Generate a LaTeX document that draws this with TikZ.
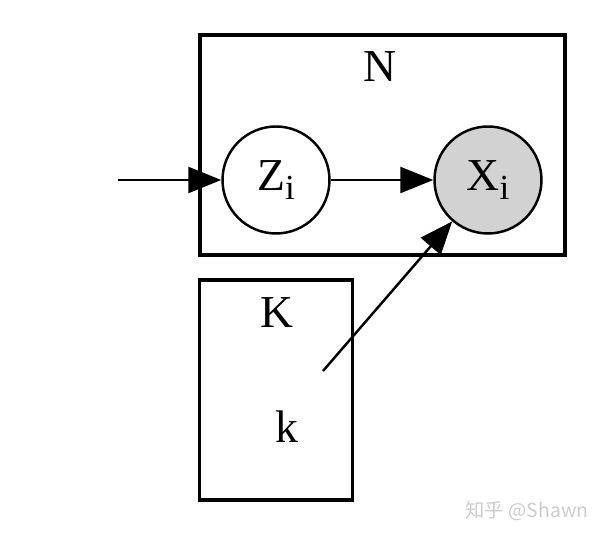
\documentclass[tikz,border=0pt]{standalone}
\usepackage{fontspec}
\setmainfont{Liberation Serif}
\newfontfamily\cjkfont{Noto Sans CJK SC}
\usetikzlibrary{arrows.meta}

\newcommand{\subi}[1]{#1\raisebox{-5pt}{\fontsize{20}{20}\selectfont i}}

\begin{document}
\begin{tikzpicture}[
  x=0.02cm, y=-0.02cm,
  every node/.style={font=\fontsize{26}{26}\selectfont},
  plate/.style={draw, line width=1.8pt, inner sep=0pt},
  var/.style={draw, circle, line width=1.4pt, minimum size=2.14cm, inner sep=0pt},
  edge/.style={draw, line width=1.4pt, -{Triangle[length=0.66cm, width=0.52cm]}}
]
\useasboundingbox (0,0) rectangle (600,536);

% Plates
\node[plate, minimum width=7.3cm, minimum height=4.4cm] (nplate) at (382.5,145) {};
\node[plate, minimum width=3.06cm, minimum height=4.4cm] (kplate) at (276,390) {};

% Plate labels
\node (nlabel) at (380,67) {N};
\node (klabel) at (276.5,313) {K};
\node (k) at (287,427) {k};

% Variables
\node[var] (z) at (276,180) {\subi{Z}};
\node[var, fill=gray!35] (x) at (488,180) {\subi{X}};

% Edge ends
\coordinate (in) at (118,180);
\coordinate (ktail) at (323,371);

% Edges
\draw[edge] (in) -- (z);
\draw[edge] (z) -- (x);
\draw[edge] (ktail) -- (x);

% Watermark
\node[font=\cjkfont\fontsize{11}{11}\selectfont, text=gray!40] (mark) at (527,511) {知乎 @Shawn};

\end{tikzpicture}
\end{document}
